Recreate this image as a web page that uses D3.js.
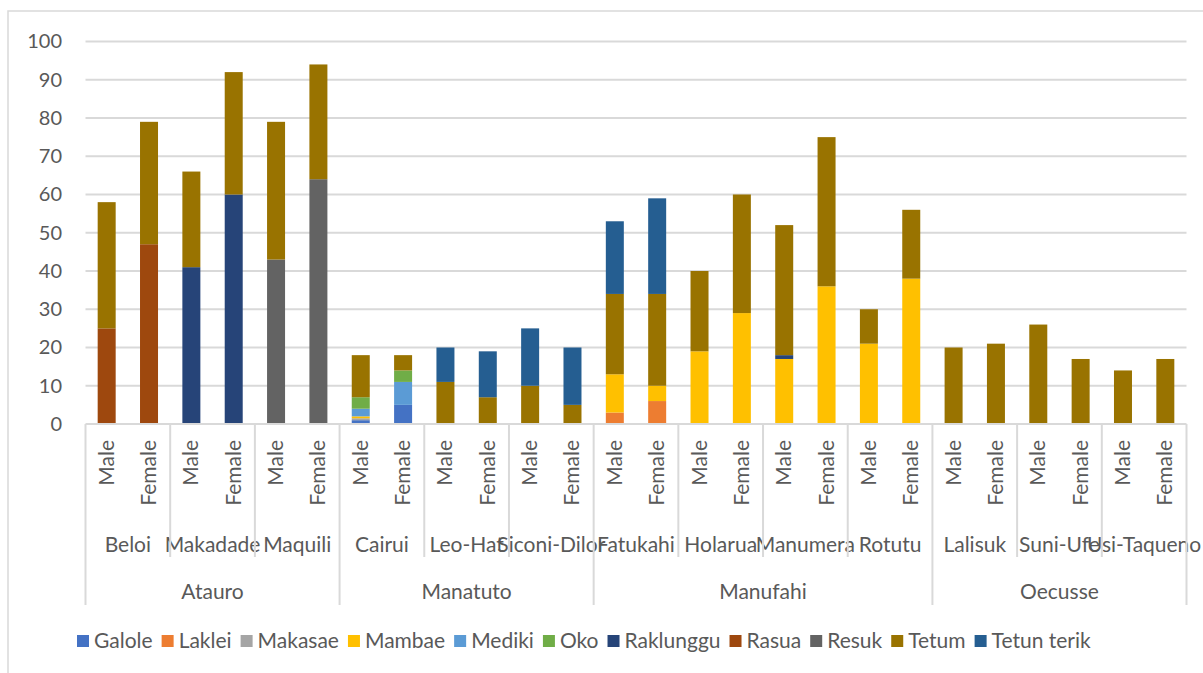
<!DOCTYPE html>
<html>
<head>
<meta charset="utf-8">
<script src="https://cdn.jsdelivr.net/npm/d3@7"></script>
<style>
  body { margin: 0; background: #fff; }
  svg text { font-family: Lato, "Liberation Sans", sans-serif; fill: #595959; }
</style>
</head>
<body>
<div id="chart"></div>
<script>
// ------------- Data ----------------- //
const regions = ['Atauro', 'Manatuto', 'Manufahi', 'Oecusse'];
const sucos = ['Beloi', 'Makadade', 'Maquili', 'Cairui', 'Leo-Hat', 'Siconi-Dilor',
  'Fatukahi', 'Holarua', 'Manumera', 'Rotutu', 'Lalisuk', 'Suni-Ufe', 'Usi-Taqueno'];
const sucoRegion = ['Atauro', 'Atauro', 'Atauro', 'Manatuto', 'Manatuto', 'Manatuto',
  'Manufahi', 'Manufahi', 'Manufahi', 'Manufahi', 'Oecusse', 'Oecusse', 'Oecusse'];
const sexes = ['Male', 'Female'];
const yTicks = [0, 10, 20, 30, 40, 50, 60, 70, 80, 90, 100];

const languages = ['Galole', 'Laklei', 'Makasae', 'Mambae', 'Mediki', 'Oko',
  'Raklunggu', 'Rasua', 'Resuk', 'Tetum', 'Tetun terik'];
const colors = ['#4472C4', '#ED7D31', '#A5A5A5', '#FFC000', '#5B9BD5', '#70AD47',
  '#264478', '#9E480E', '#636363', '#997300', '#255E91'];

// values per language, in order Male/Female for each suco above
const galole     = [0, 0, 0, 0, 0, 0, 1, 5, 0, 0, 0, 0, 0, 0, 0, 0, 0, 0, 0, 0, 0, 0, 0, 0, 0, 0];
const laklei     = [0, 0, 0, 0, 0, 0, 0, 0, 0, 0, 0, 0, 3, 6, 0, 0, 0, 0, 0, 0, 0, 0, 0, 0, 0, 0];
const makasae    = [0, 0, 0, 0, 0, 0, 0.5, 0, 0, 0, 0, 0, 0, 0, 0, 0, 0, 0, 0, 0, 0, 0, 0, 0, 0, 0];
const mambae     = [0, 0, 0, 0, 0, 0, 0.5, 0, 0, 0, 0, 0, 10, 4, 19, 29, 17, 36, 21, 38, 0, 0, 0, 0, 0, 0];
const mediki     = [0, 0, 0, 0, 0, 0, 2, 6, 0, 0, 0, 0, 0, 0, 0, 0, 0, 0, 0, 0, 0, 0, 0, 0, 0, 0];
const oko        = [0, 0, 0, 0, 0, 0, 3, 3, 0, 0, 0, 0, 0, 0, 0, 0, 0, 0, 0, 0, 0, 0, 0, 0, 0, 0];
const raklunggu  = [0, 0, 41, 60, 0, 0, 0, 0, 0, 0, 0, 0, 0, 0, 0, 0, 1, 0, 0, 0, 0, 0, 0, 0, 0, 0];
const rasua      = [25, 47, 0, 0, 0, 0, 0, 0, 0, 0, 0, 0, 0, 0, 0, 0, 0, 0, 0, 0, 0, 0, 0, 0, 0, 0];
const resuk      = [0, 0, 0, 0, 43, 64, 0, 0, 0, 0, 0, 0, 0, 0, 0, 0, 0, 0, 0, 0, 0, 0, 0, 0, 0, 0];
const tetum      = [33, 32, 25, 32, 36, 30, 11, 4, 11, 7, 10, 5, 21, 24, 21, 31, 34, 39, 9, 18, 20, 21, 26, 17, 14, 17];
const tetunTerik = [0, 0, 0, 0, 0, 0, 0, 0, 9, 12, 15, 15, 19, 25, 0, 0, 0, 0, 0, 0, 0, 0, 0, 0, 0, 0];

const series = [galole, laklei, makasae, mambae, mediki, oko, raklunggu, rasua, resuk, tetum, tetunTerik];

// build rows for the stack
const rows = [];
sucos.forEach((s, i) => {
  sexes.forEach((sex, j) => {
    const row = { key: s + '|' + sex, suco: s, region: sucoRegion[i], sex: sex };
    languages.forEach((l, k) => { row[l] = series[k][i * 2 + j]; });
    rows.push(row);
  });
});

// ------------- Layout ----------------- //
const W = 1203, H = 673;
const plot = { left: 85.5, right: 1186.5, top: 41.5, bottom: 424 };
const fontSize = 21;
const gridColor = '#D9D9D9';

const svg = d3.select('#chart').append('svg')
  .attr('width', W).attr('height', H);

// chart border (only top and left are in frame)
svg.append('path')
  .attr('d', `M8,${H} L8,11 L${W},11`)
  .attr('fill', 'none').attr('stroke', gridColor).attr('stroke-width', 1.5);

const x = d3.scaleBand()
  .domain(rows.map(d => d.key))
  .range([plot.left, plot.right])
  .paddingInner(0.575)
  .paddingOuter(0.2875);

const y = d3.scaleLinear().domain([0, 100]).range([plot.bottom, plot.top]);

// gridlines
svg.append('g')
  .selectAll('line')
  .data(yTicks.filter(t => t > 0))
  .join('line')
  .attr('x1', plot.left).attr('x2', plot.right)
  .attr('y1', d => y(d)).attr('y2', d => y(d))
  .attr('stroke', gridColor).attr('stroke-width', 2);

// y axis labels
const yAxis = d3.axisLeft(y).tickValues(yTicks).tickSize(0).tickPadding(0);
svg.append('g')
  .attr('transform', 'translate(62,0)')
  .call(yAxis)
  .call(g => g.select('.domain').remove())
  .selectAll('text')
  .attr('font-size', 20)
  .attr('font-family', null)
  .attr('fill', '#595959');

// stacked bars
const stacked = d3.stack().keys(languages)(rows);
svg.append('g')
  .selectAll('g')
  .data(stacked)
  .join('g')
  .attr('fill', (d, i) => colors[i])
  .selectAll('rect')
  .data(d => d.filter(p => p[1] - p[0] > 0))
  .join('rect')
  .attr('x', d => x(d.data.key))
  .attr('width', x.bandwidth())
  .attr('y', d => y(d[1]))
  .attr('height', d => y(d[0]) - y(d[1]));

// ------------- Multi-level category axis ----------------- //
const axisG = svg.append('g');
const step = x.step();

// horizontal axis line
axisG.append('line')
  .attr('x1', plot.left).attr('x2', plot.right)
  .attr('y1', plot.bottom).attr('y2', plot.bottom)
  .attr('stroke', gridColor).attr('stroke-width', 2);

// Male / Female labels (rotated)
axisG.selectAll('.sex-label')
  .data(rows)
  .join('text')
  .attr('class', 'sex-label')
  .attr('transform', d => `translate(${x(d.key) + x.bandwidth() / 2 + 7},440) rotate(-90)`)
  .attr('text-anchor', 'end')
  .attr('font-size', fontSize)
  .text(d => d.sex);

// suco labels
axisG.selectAll('.suco-label')
  .data(sucos)
  .join('text')
  .attr('class', 'suco-label')
  .attr('x', (d, i) => plot.left + step * (i * 2 + 1))
  .attr('y', 552)
  .attr('text-anchor', 'middle')
  .attr('font-size', fontSize)
  .text(d => d);

// region labels
const regionSpans = regions.map(r => {
  const idx = rows.map((d, i) => d.region === r ? i : -1).filter(i => i >= 0);
  return { name: r, start: d3.min(idx), end: d3.max(idx) + 1 };
});
axisG.selectAll('.region-label')
  .data(regionSpans)
  .join('text')
  .attr('class', 'region-label')
  .attr('x', d => plot.left + step * (d.start + d.end) / 2)
  .attr('y', 599)
  .attr('text-anchor', 'middle')
  .attr('font-size', fontSize)
  .text(d => d.name);

// separator lines
const sucoBounds = d3.range(1, sucos.length).map(i => i * 2)
  .filter(i => !regionSpans.some(r => r.start === i));
axisG.selectAll('.suco-sep')
  .data(sucoBounds)
  .join('line')
  .attr('x1', d => plot.left + step * d).attr('x2', d => plot.left + step * d)
  .attr('y1', plot.bottom).attr('y2', 557)
  .attr('stroke', gridColor).attr('stroke-width', 2);

const regionBounds = regionSpans.map(r => r.start).concat([rows.length]);
axisG.selectAll('.region-sep')
  .data(regionBounds)
  .join('line')
  .attr('x1', d => plot.left + step * d).attr('x2', d => plot.left + step * d)
  .attr('y1', plot.bottom).attr('y2', 605)
  .attr('stroke', gridColor).attr('stroke-width', 2);

// ------------- Legend ----------------- //
const legend = svg.append('g').attr('transform', 'translate(0,641)');
let lx = 77;
languages.forEach((l, i) => {
  const item = legend.append('g').attr('transform', `translate(${lx},0)`);
  item.append('rect')
    .attr('x', 0).attr('y', -6).attr('width', 12).attr('height', 12)
    .attr('fill', colors[i]);
  const t = item.append('text')
    .attr('x', 17).attr('y', 7)
    .attr('font-size', fontSize)
    .text(l);
  lx += 17 + t.node().getComputedTextLength() + 9;
});
</script>
</body>
</html>
